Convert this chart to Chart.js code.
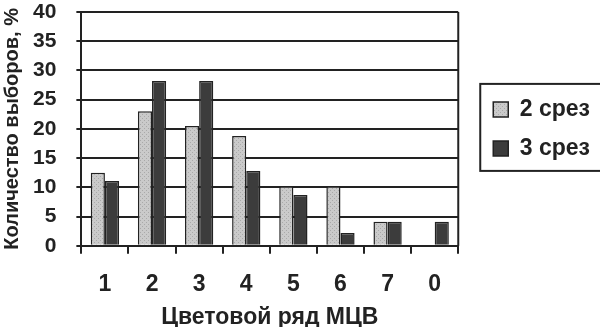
<!DOCTYPE html>
<html>
<head>
<meta charset="utf-8">
<script src="https://cdn.jsdelivr.net/npm/chart.js@4"></script>
<style>
  html, body { margin: 0; padding: 0; background: #fff; }
  #wrap { width: 600px; height: 327px; }
</style>
</head>
<body>
<div id="wrap"><canvas id="myChart"></canvas></div>
<script>
const labels = ["1", "2", "3", "4", "5", "6", "7", "0"];
const srez2 = [12.5, 23, 20.5, 18.8, 10.2, 10.2, 4.1, 0];
const srez3 = [11.1, 28.2, 28.2, 12.8, 8.7, 2.2, 4.1, 4.1];
const seriesNames = ["2 срез", "3 срез"];

const ink = "#222";
const fontFam = "'Liberation Sans', Arial, sans-serif";
const GAP = 19; // промежуток между полем графика и легендой

// светлая заливка с мелкой крапинкой, как на скане
function lightPattern() {
  const c = document.createElement("canvas");
  c.width = 4; c.height = 4;
  const g = c.getContext("2d");
  g.fillStyle = "#cacaca";
  g.fillRect(0, 0, 4, 4);
  g.fillStyle = "#a9a9a9";
  g.fillRect(0, 0, 1, 1);
  g.fillRect(2, 2, 1, 1);
  return g.createPattern(c, "repeat");
}

// отодвигаем легенду от поля графика
const legendGap = {
  id: "legendGap",
  beforeLayout(chart) {
    const lg = chart.legend;
    if (lg && !lg._gapWrapped) {
      const fit = lg.fit;
      lg.fit = function () { fit.call(this); this.width += GAP; };
      lg._gapWrapped = true;
    }
  },
  afterLayout(chart) {
    const lg = chart.legend;
    if (!lg) return;
    lg.left += GAP;
    lg.width -= GAP;
  }
};

// правая граница поля и рамка вокруг легенды
const frames = {
  id: "frames",
  afterDraw(chart) {
    const ctx = chart.ctx;
    const a = chart.chartArea;
    ctx.save();
    ctx.strokeStyle = ink;
    ctx.lineWidth = 2;
    ctx.beginPath();
    ctx.moveTo(a.right, a.top);
    ctx.lineTo(a.right, a.bottom);
    ctx.stroke();
    const boxes = chart.legend && chart.legend.legendHitBoxes;
    if (boxes && boxes.length) {
      let x1 = Infinity, y1 = Infinity, x2 = -Infinity, y2 = -Infinity;
      boxes.forEach((b) => {
        x1 = Math.min(x1, b.left); y1 = Math.min(y1, b.top);
        x2 = Math.max(x2, b.left + b.width); y2 = Math.max(y2, b.top + b.height);
      });
      ctx.strokeRect(x1 - 13, y1 - 14, x2 - x1 + 24, y2 - y1 + 25);
    }
    ctx.restore();
  }
};

const ctx = document.getElementById("myChart");
new Chart(ctx, {
  type: "bar",
  data: {
    labels: labels,
    datasets: [
      {
        label: seriesNames[0],
        data: srez2,
        backgroundColor: lightPattern(),
        borderColor: ink,
        borderWidth: 1.5,
      },
      {
        label: seriesNames[1],
        data: srez3,
        backgroundColor: "#3c3c3c",
        borderColor: ink,
        borderWidth: 1.5,
      }
    ],
  },
  options: {
    responsive: true,
    maintainAspectRatio: false,
    animation: false,
    devicePixelRatio: 1,
    layout: { padding: 0 },
    datasets: { bar: { categoryPercentage: 0.6, barPercentage: 1.0 } },
    plugins: {
      tooltip: { enabled: false },
      legend: {
        position: "right",
        fullSize: false,
        labels: {
          color: ink,
          font: { family: fontFam, size: 23, weight: "bold" },
          boxWidth: 15,
          boxHeight: 15,
          padding: 16,
        },
      },
    },
    scales: {
      x: {
        grid: {
          display: true,
          drawOnChartArea: false,
          color: ink,
          lineWidth: 2,
          tickLength: 8,
          offset: true,
        },
        border: { display: true, color: ink, width: 2 },
        ticks: {
          color: ink,
          padding: 17,
          autoSkip: false,
          maxRotation: 0,
          font: { family: fontFam, size: 23, weight: "bold" },
        },
        title: {
          display: true,
          text: "Цветовой ряд МЦВ",
          color: ink,
          padding: { top: -12, bottom: -4 },
          font: { family: fontFam, size: 23, weight: "bold" },
        },
      },
      y: {
        min: 0,
        max: 40,
        ticks: {
          stepSize: 5,
          autoSkip: false,
          color: ink,
          padding: 20,
          font: { family: fontFam, size: 21, weight: "bold" },
        },
        grid: { color: ink, lineWidth: 2, tickLength: 5 },
        border: { display: true, color: ink, width: 2 },
        title: {
          display: true,
          text: "Количество выборов, %",
          color: ink,
          padding: { top: 0, bottom: -11 },
          font: { family: fontFam, size: 20, weight: "bold" },
        },
        afterFit(scale) {
          scale.paddingTop = 12;
          scale.paddingBottom = 12;
        },
      },
    },
  },
  plugins: [legendGap, frames],
});
</script>
</body>
</html>
